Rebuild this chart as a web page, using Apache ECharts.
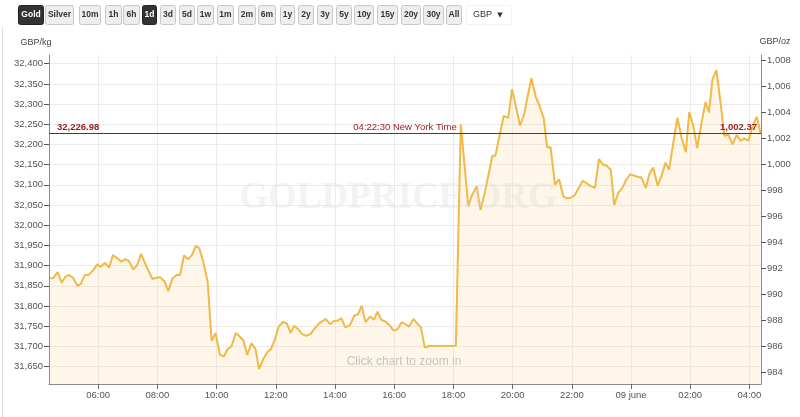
<!DOCTYPE html>
<html><head><meta charset="utf-8">
<script src="https://cdn.jsdelivr.net/npm/echarts@6/dist/echarts.min.js"></script>
<style>html,body{margin:0;padding:0;background:#fff}#c{width:800px;height:417px}</style>
</head><body><div id="c"></div>
<script>
// ---- data (New York time, 8-9 June) ----
const times = ['04:22','04:29','04:38','04:46','04:54','05:01','05:09','05:18','05:25','05:33','05:41','05:50','05:58',
'06:05','06:14','06:22','06:30','06:39','06:47','06:55','07:02','07:11','07:19','07:27','07:35','07:43','07:50','07:58',
'08:06','08:15','08:22','08:31','08:39','08:46','08:54','09:02','09:10','09:18','09:25','09:33','09:42','09:50','09:58',
'10:07','10:15','10:22','10:30','10:39','10:46','10:54','11:02','11:11','11:19','11:26','11:34','11:43','11:50','11:58',
'12:06','12:15','12:23','12:30','12:37','12:45','12:53','13:02','13:11','13:19','13:28','13:34','13:41','13:50','13:58',
'14:06','14:13','14:21','14:30','14:39','14:47','14:54','15:02','15:11','15:19','15:26','15:34','15:43','15:51','15:59',
'16:07','16:15','16:23','16:30','16:39','16:47','16:54','17:02','17:10','18:05','18:15','18:30','18:38','18:47','18:55',
'19:04','19:19','19:25','19:42','19:51','19:59','20:15','20:23','20:38','20:47','20:55','21:03','21:10','21:17','21:26',
'21:34','21:43','21:49','21:58','22:06','22:14','22:22','22:30','22:38','22:47','22:55','23:04','23:10','23:19','23:26',
'23:34','23:42','23:50','23:58','00:06','00:13','00:21','00:30','00:37','00:45','00:54','01:02','01:10','01:17','01:25',
'01:34','01:42','01:51','01:58','02:06','02:14','02:22','02:31','02:38','02:45','02:53','03:02','03:09','03:17','03:26',
'03:34','03:42','03:49','03:58','04:06','04:15','04:22:30'];
const pricesKg = [31869,31869,31884,31858,31873,31877,31870,31850,31855,31877,31877,31889,31903,
31897,31907,31895,31926,31918,31910,31916,31912,31891,31901,31929,31906,31885,31867,31870,
31871,31860,31837,31869,31877,31877,31925,31916,31926,31949,31943,31910,31860,31714,31733,
31679,31675,31693,31700,31733,31726,31716,31679,31708,31693,31644,31667,31686,31693,31716,
31749,31761,31756,31733,31751,31743,31731,31726,31731,31745,31757,31762,31768,31755,31763,
31764,31770,31747,31752,31776,31780,31801,31760,31774,31766,31786,31766,31761,31752,31739,
31743,31760,31755,31749,31768,31756,31748,31697,31701,31702,32250,32048,32075,32097,32038,
32083,32172,32172,32271,32266,32337,32247,32273,32364,32318,32294,32265,32193,32193,32100,
32114,32071,32067,32068,32075,32092,32110,32104,32097,32093,32164,32149,32148,32137,32050,
32080,32092,32112,32126,32123,32120,32118,32092,32126,32143,32098,32123,32155,32137,32199,
32266,32219,32181,32280,32247,32191,32248,32305,32279,32362,32384,32298,32221,32225,32200,
32224,32209,32215,32209,32244,32269,32226.98];
const xTickHours = [6,8,10,12,14,16,18,20,22,24,26,28];
const dayLabel = '09 june';
const yTicksKg = [31650,31700,31750,31800,31850,31900,31950,32000,32050,32100,32150,32200,32250,32300,32350,32400];
const yTicksOz = [984,986,988,990,992,994,996,998,1000,1002,1004,1006,1008];
const lastPriceKg = 32226.98;
const lastPriceOz = 1002.37;
const lastTimeText = '04:22:30 New York Time';
const buttonLabels = ['Gold','Silver','10m','1h','6h','1d','3d','5d','1w','1m','2m','6m','1y','2y','3y','5y','10y','15y','20y','30y','All'];
const activeLabels = ['Gold','1d'];
const currency = 'GBP';
const OZ_PER_KG = 32.1507466;

// ---- build ----
function toHours(t){
  const p = t.split(':').map(Number);
  return p[0] + p[1]/60 + (p[2]||0)/3600;
}
const seriesData = [];
let dayOff = 0, prev = -1;
times.forEach((t,i)=>{
  let h = toHours(t);
  if (h + dayOff < prev) dayOff += 24;
  h += dayOff; prev = h;
  seriesData.push([h, pricesKg[i]]);
});
const fmt = (v,d)=> v.toLocaleString('en-US',{minimumFractionDigits:d||0,maximumFractionDigits:d||0});
const pad = n => (n<10?'0':'')+n;

const X_MIN = 4.34, X_MAX = 28.39;
const Y_MIN = 31607, Y_MAX = 32421.5;

// toolbar layout [x, width]
const btnLayout = [[18,25],[45,28],[79,21],[105,16],[123,16],[142,14],[160,15],[179,15],[197,16],[217,16],[238,17],[258,17],[280,14],[298,15],[317,15],[336,15],[354,19],[377,20],[401,19],[423,20],[446,15]];
const graphics = [];
graphics.push({type:'line', silent:true, shape:{x1:2.5,y1:27,x2:2.5,y2:417}, style:{stroke:'#dcdcdc', lineWidth:1}});
buttonLabels.forEach((b,i)=>{
  const [x,w] = btnLayout[i];
  const act = activeLabels.includes(b);
  graphics.push({type:'rect', silent:true, shape:{x:x+0.5,y:5.5,width:w,height:19,r:2},
    style:{fill: act?'#333333':'#eeeeee', stroke: act?'#222':'#c8c8c8', lineWidth:1}});
  graphics.push({type:'text', silent:true, style:{text:b, x:x+0.5+w/2, y:15, align:'center', verticalAlign:'middle',
    font:'bold 8.5px "Liberation Sans"', fill: act?'#ffffff':'#333333'}});
});
graphics.push({type:'rect', silent:true, shape:{x:466.5,y:5.5,width:45,height:19}, style:{fill:'#fff', stroke:'#f2f2f2', lineWidth:1}});
graphics.push({type:'text', silent:true, style:{text:currency, x:473, y:15, align:'left', verticalAlign:'middle', font:'9px "Liberation Sans"', fill:'#333'}});
graphics.push({type:'text', silent:true, style:{text:'▼', x:500, y:15, align:'center', verticalAlign:'middle', font:'7px "DejaVu Sans"', fill:'#333'}});
graphics.push({type:'text', silent:true, style:{text:'GBP/kg', x:36, y:43, align:'center', verticalAlign:'middle', font:'9px "Liberation Sans"', fill:'#444'}});
graphics.push({type:'text', silent:true, style:{text:'GBP/oz', x:775, y:42, align:'center', verticalAlign:'middle', font:'9px "Liberation Sans"', fill:'#444'}});
graphics.push({type:'text', silent:true, z:100, style:{text:'GOLDPRICE.ORG', x:398, y:198, align:'center', verticalAlign:'middle', font:'bold 37px "Liberation Serif"', fill:'rgba(215,215,215,0.3)'}});
graphics.push({type:'text', silent:true, z:100, style:{text:'Click chart to zoom in', x:404, y:362, align:'center', verticalAlign:'middle', font:'12px "Liberation Sans"', fill:'#c4c4c4'}});

const axisLabelStyle = {color:'#555', fontSize:9.5, fontFamily:'Liberation Sans'};
const option = {
  animation:false,
  backgroundColor:'#ffffff',
  grid:{left:49, right:39, top:55, bottom:33, containLabel:false},
  xAxis:{
    type:'value', min:X_MIN, max:X_MAX,
    axisLine:{show:true, lineStyle:{color:'#8a8a8a', width:1}},
    axisTick:{show:true, customValues:xTickHours, length:5, lineStyle:{color:'#666'}},
    axisLabel:Object.assign({customValues:xTickHours, margin:6, formatter:v=> (Math.round(v)===24? dayLabel : pad(Math.round(v)%24)+':00')}, axisLabelStyle),
    splitLine:{show:true, lineStyle:{color:'#ebebeb', width:1}}
  },
  yAxis:[{
    type:'value', min:Y_MIN, max:Y_MAX, position:'left',
    axisLine:{show:true, lineStyle:{color:'#8a8a8a', width:1}},
    axisTick:{show:true, customValues:yTicksKg, length:5, lineStyle:{color:'#555'}},
    axisLabel:Object.assign({customValues:yTicksKg, margin:6, formatter:v=>fmt(v)}, axisLabelStyle),
    splitLine:{show:true, lineStyle:{color:'#ebebeb', width:1}}
  },{
    type:'value', min:Y_MIN/OZ_PER_KG, max:Y_MAX/OZ_PER_KG, position:'right',
    axisLine:{show:true, lineStyle:{color:'#8a8a8a', width:1}},
    axisTick:{show:true, customValues:yTicksOz, length:5, lineStyle:{color:'#555'}},
    axisLabel:Object.assign({customValues:yTicksOz, margin:6, formatter:v=>fmt(v)}, axisLabelStyle),
    splitLine:{show:false}
  }],
  series:[{
    type:'line', data:seriesData, yAxisIndex:0, showSymbol:false, symbol:'none',
    lineStyle:{color:'#f2b848', width:2},
    areaStyle:{color:'rgba(250,215,150,0.3)'},
    markLine:{
      silent:true, symbol:'none', animation:false,
      lineStyle:{color:'#8e1f1f', width:1, type:'solid'},
      label:{color:'#a11d1d', fontSize:9.5, fontFamily:'Liberation Sans'},
      data:[
        {yAxis:lastPriceKg, label:{position:'insideStartTop', formatter:fmt(lastPriceKg,2), fontWeight:'bold', distance:[8,1]}},
        {yAxis:lastPriceKg, label:{position:'insideMiddleTop', formatter:lastTimeText, distance:[0,1]}},
        {yAxis:lastPriceKg, label:{position:'insideEndTop', formatter:fmt(lastPriceOz,2), fontWeight:'bold', distance:[4,1]}}
      ]
    }
  }],
  graphic:{elements:graphics}
};
const chart = echarts.init(document.getElementById('c'), null, {renderer:'canvas'});
chart.setOption(option);
</script>
</body></html>
